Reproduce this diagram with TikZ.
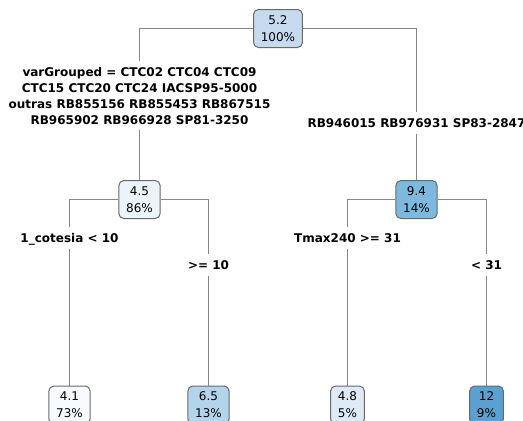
\documentclass[tikz,border=0pt]{standalone}
\usepackage{fontspec}
\setmainfont{DejaVu Sans}
\definecolor{boxline}{RGB}{105,105,105}
\definecolor{edgegray}{RGB}{135,135,135}
\definecolor{fillroot}{RGB}{198,219,239}
\definecolor{fillA}{RGB}{235,243,251}
\definecolor{fillB}{RGB}{125,185,222}
\definecolor{fillAA}{RGB}{247,251,255}
\definecolor{fillAB}{RGB}{180,212,235}
\definecolor{fillBA}{RGB}{222,235,247}
\definecolor{fillBB}{RGB}{90,160,208}
\begin{document}
\begin{tikzpicture}[x=1pt,y=1pt]
\tikzstyle{every node}+=[font=\fontsize{12}{17}\selectfont]
\tikzstyle{box}=[draw=boxline, line width=1pt, rounded corners=5pt, align=center, inner xsep=7.3pt, inner ysep=0pt, minimum height=38pt]
\tikzstyle{edge}=[draw=edgegray, line width=1.3pt]
\tikzstyle{lab}=[fill=white, font=\bfseries\fontsize{12}{16}\selectfont, inner xsep=1pt, inner ysep=5pt, text height=10.5pt, text depth=1.5pt, anchor=base]
\tikzstyle{mlab}=[fill=white, font=\bfseries\fontsize{12}{16}\selectfont, align=center, inner xsep=1pt, inner ysep=6pt, anchor=north]
\useasboundingbox (0,0) rectangle (523,-421);
\node [box, fill=fillroot] (root) at (278,-28.5) {5.2\\100\%};
\node [box, fill=fillA] (n45) at (139.5,-199.5) {4.5\\86\%};
\node [box, fill=fillB] (n94) at (416.5,-199.5) {9.4\\14\%};
\node [box, fill=fillAA] (n41) at (69.5,-405) {4.1\\73\%};
\node [box, fill=fillAB] (n65) at (208.5,-405) {6.5\\13\%};
\node [box, fill=fillBA] (n48) at (347.5,-405) {4.8\\5\%};
\node [box, fill=fillBB] (n12) at (486.5,-405) {12\\9\%};
\draw [edge] (root.west) -| (n45.north);
\draw [edge] (root.east) -| (n94.north);
\draw [edge] (n45.west) -| (n41.north);
\draw [edge] (n45.east) -| (n65.north);
\draw [edge] (n94.west) -| (n48.north);
\draw [edge] (n94.east) -| (n12.north);
\node [mlab] (lgroup) at (139.5,-60.9) {varGrouped = CTC02 CTC04 CTC09\\CTC15 CTC20 CTC24 IACSP95-5000\\outras RB855156 RB855453 RB867515\\RB965902 RB966928 SP81-3250};
\node [lab] (rgroup) at (416.5,-127) {RB946015 RB976931 SP83-2847};
\node [lab] (lcot) at (69.5,-242) {1\_cotesia < 10};
\node [lab] (rcot) at (208.5,-269.5) {>= 10};
\node [lab] (ltmax) at (347.5,-242) {Tmax240 >= 31};
\node [lab] (rtmax) at (486.5,-269.5) {< 31};
\end{tikzpicture}
\end{document}
